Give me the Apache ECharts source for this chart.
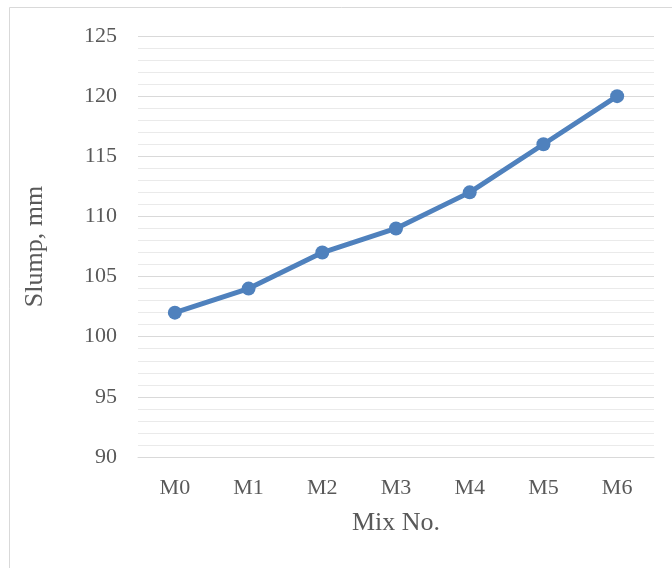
<!DOCTYPE html>
<html>
<head>
<meta charset="utf-8">
<script src="https://cdn.jsdelivr.net/npm/echarts@6/dist/echarts.min.js"></script>
<style>
html,body{margin:0;padding:0;background:#fff;}
#c{width:672px;height:568px;}
</style>
</head>
<body>
<div id="c"></div>
<script>
const categories = ['M0','M1','M2','M3','M4','M5','M6'];
const slump = [102, 104, 107, 109, 112, 116, 120];
const yMin = 90, yMax = 125, yStep = 5;

const chart = echarts.init(document.getElementById('c'), null, {renderer:'canvas'});
const font = '"Liberation Serif", "Times New Roman", serif';
chart.setOption({
  animation: false,
  backgroundColor: '#fff',
  graphic: [{
    type: 'rect',
    shape: {x: 9.5, y: 7.5, width: 700, height: 600},
    style: {fill: 'none', stroke: '#d9d9d9', lineWidth: 1},
    silent: true, z: -1
  }],
  grid: {left: 138, right: 18, top: 36, bottom: 111, containLabel: false},
  xAxis: {
    type: 'category',
    data: categories,
    boundaryGap: true,
    name: 'Mix No.',
    nameLocation: 'middle',
    nameGap: 53,
    nameTextStyle: {fontFamily: font, fontSize: 26, color: '#595959'},
    axisLine: {show: true, lineStyle: {color: '#d9d9d9', width: 1}},
    axisTick: {show: false},
    axisLabel: {fontFamily: font, fontSize: 22, color: '#595959', margin: 20}
  },
  yAxis: {
    type: 'value',
    min: yMin, max: yMax, interval: yStep,
    name: 'Slump, mm',
    nameLocation: 'middle',
    nameGap: 90,
    nameTextStyle: {fontFamily: font, fontSize: 26, color: '#595959'},
    axisLine: {show: false},
    axisTick: {show: false},
    axisLabel: {fontFamily: font, fontSize: 22, color: '#595959', margin: 21},
    splitLine: {show: true, lineStyle: {color: '#d9d9d9', width: 1}},
    minorTick: {show: false, splitNumber: 5},
    minorSplitLine: {show: true, lineStyle: {color: '#eaeaea', width: 1}}
  },
  series: [{
    type: 'line',
    data: slump,
    symbol: 'circle',
    symbolSize: 14,
    lineStyle: {color: '#4f81bd', width: 5},
    itemStyle: {color: '#4f81bd'}
  }]
});
</script>
</body>
</html>
